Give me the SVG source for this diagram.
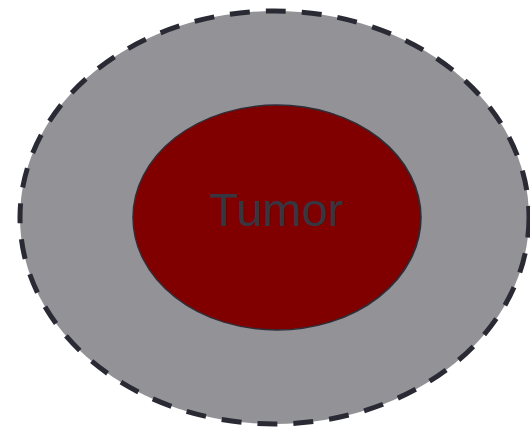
<svg xmlns="http://www.w3.org/2000/svg" width="530" height="428" viewBox="0 0 530 428">
<style>
.outer{fill:#939297;stroke:#2a2a35;stroke-width:5;stroke-dasharray:20 16}
.inner{fill:#800000;stroke:#2e2e38;stroke-width:1.5}
.lbl{font-family:"Liberation Sans",Arial,sans-serif;font-size:47px;fill:#363640;text-anchor:middle}
</style>
<rect width="530" height="428" fill="#ffffff"/>
<g id="microenvironment">
<ellipse class="outer" cx="274.5" cy="217.5" rx="254.5" ry="206.5"/>
</g>
<g id="tumor">
<ellipse class="inner" cx="277" cy="217.5" rx="144" ry="112.5"/>
<text class="lbl" x="276.5" y="226">Tumor</text>
</g>
<g id="connectors"/>
</svg>
